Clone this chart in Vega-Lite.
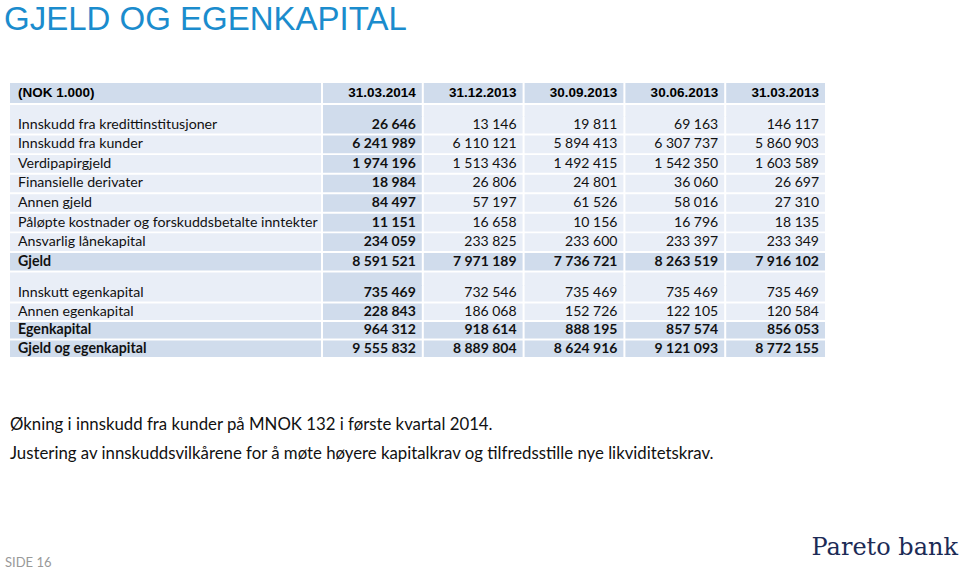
{
 "$schema": "https://vega.github.io/schema/vega-lite/v6.json",
 "width": 960, "height": 571,
 "autosize": {"type": "fit", "contains": "padding"},
 "padding": 0,
 "background": "white",
 "config": {"view": {"stroke": null}, "axis": {"disable": true}, "locale": {"number": {"decimal": ",", "thousands": " ", "grouping": [3], "currency": ["", ""]}}},
 "datasets": {
  "cells": [
   {"block":"A","row":"Innskudd fra kredittinstitusjoner","bold":false,"col":"31.03.2014","value":26646},
   {"block":"A","row":"Innskudd fra kredittinstitusjoner","bold":false,"col":"31.12.2013","value":13146},
   {"block":"A","row":"Innskudd fra kredittinstitusjoner","bold":false,"col":"30.09.2013","value":19811},
   {"block":"A","row":"Innskudd fra kredittinstitusjoner","bold":false,"col":"30.06.2013","value":69163},
   {"block":"A","row":"Innskudd fra kredittinstitusjoner","bold":false,"col":"31.03.2013","value":146117},
   {"block":"A","row":"Innskudd fra kunder","bold":false,"col":"31.03.2014","value":6241989},
   {"block":"A","row":"Innskudd fra kunder","bold":false,"col":"31.12.2013","value":6110121},
   {"block":"A","row":"Innskudd fra kunder","bold":false,"col":"30.09.2013","value":5894413},
   {"block":"A","row":"Innskudd fra kunder","bold":false,"col":"30.06.2013","value":6307737},
   {"block":"A","row":"Innskudd fra kunder","bold":false,"col":"31.03.2013","value":5860903},
   {"block":"A","row":"Verdipapirgjeld","bold":false,"col":"31.03.2014","value":1974196},
   {"block":"A","row":"Verdipapirgjeld","bold":false,"col":"31.12.2013","value":1513436},
   {"block":"A","row":"Verdipapirgjeld","bold":false,"col":"30.09.2013","value":1492415},
   {"block":"A","row":"Verdipapirgjeld","bold":false,"col":"30.06.2013","value":1542350},
   {"block":"A","row":"Verdipapirgjeld","bold":false,"col":"31.03.2013","value":1603589},
   {"block":"A","row":"Finansielle derivater","bold":false,"col":"31.03.2014","value":18984},
   {"block":"A","row":"Finansielle derivater","bold":false,"col":"31.12.2013","value":26806},
   {"block":"A","row":"Finansielle derivater","bold":false,"col":"30.09.2013","value":24801},
   {"block":"A","row":"Finansielle derivater","bold":false,"col":"30.06.2013","value":36060},
   {"block":"A","row":"Finansielle derivater","bold":false,"col":"31.03.2013","value":26697},
   {"block":"A","row":"Annen gjeld","bold":false,"col":"31.03.2014","value":84497},
   {"block":"A","row":"Annen gjeld","bold":false,"col":"31.12.2013","value":57197},
   {"block":"A","row":"Annen gjeld","bold":false,"col":"30.09.2013","value":61526},
   {"block":"A","row":"Annen gjeld","bold":false,"col":"30.06.2013","value":58016},
   {"block":"A","row":"Annen gjeld","bold":false,"col":"31.03.2013","value":27310},
   {"block":"A","row":"Påløpte kostnader og forskuddsbetalte inntekter","bold":false,"col":"31.03.2014","value":11151},
   {"block":"A","row":"Påløpte kostnader og forskuddsbetalte inntekter","bold":false,"col":"31.12.2013","value":16658},
   {"block":"A","row":"Påløpte kostnader og forskuddsbetalte inntekter","bold":false,"col":"30.09.2013","value":10156},
   {"block":"A","row":"Påløpte kostnader og forskuddsbetalte inntekter","bold":false,"col":"30.06.2013","value":16796},
   {"block":"A","row":"Påløpte kostnader og forskuddsbetalte inntekter","bold":false,"col":"31.03.2013","value":18135},
   {"block":"A","row":"Ansvarlig lånekapital","bold":false,"col":"31.03.2014","value":234059},
   {"block":"A","row":"Ansvarlig lånekapital","bold":false,"col":"31.12.2013","value":233825},
   {"block":"A","row":"Ansvarlig lånekapital","bold":false,"col":"30.09.2013","value":233600},
   {"block":"A","row":"Ansvarlig lånekapital","bold":false,"col":"30.06.2013","value":233397},
   {"block":"A","row":"Ansvarlig lånekapital","bold":false,"col":"31.03.2013","value":233349},
   {"block":"A","row":"Gjeld","bold":true,"col":"31.03.2014","value":8591521},
   {"block":"A","row":"Gjeld","bold":true,"col":"31.12.2013","value":7971189},
   {"block":"A","row":"Gjeld","bold":true,"col":"30.09.2013","value":7736721},
   {"block":"A","row":"Gjeld","bold":true,"col":"30.06.2013","value":8263519},
   {"block":"A","row":"Gjeld","bold":true,"col":"31.03.2013","value":7916102},
   {"block":"B","row":"Innskutt egenkapital","bold":false,"col":"31.03.2014","value":735469},
   {"block":"B","row":"Innskutt egenkapital","bold":false,"col":"31.12.2013","value":732546},
   {"block":"B","row":"Innskutt egenkapital","bold":false,"col":"30.09.2013","value":735469},
   {"block":"B","row":"Innskutt egenkapital","bold":false,"col":"30.06.2013","value":735469},
   {"block":"B","row":"Innskutt egenkapital","bold":false,"col":"31.03.2013","value":735469},
   {"block":"B","row":"Annen egenkapital","bold":false,"col":"31.03.2014","value":228843},
   {"block":"B","row":"Annen egenkapital","bold":false,"col":"31.12.2013","value":186068},
   {"block":"B","row":"Annen egenkapital","bold":false,"col":"30.09.2013","value":152726},
   {"block":"B","row":"Annen egenkapital","bold":false,"col":"30.06.2013","value":122105},
   {"block":"B","row":"Annen egenkapital","bold":false,"col":"31.03.2013","value":120584},
   {"block":"B","row":"Egenkapital","bold":true,"col":"31.03.2014","value":964312},
   {"block":"B","row":"Egenkapital","bold":true,"col":"31.12.2013","value":918614},
   {"block":"B","row":"Egenkapital","bold":true,"col":"30.09.2013","value":888195},
   {"block":"B","row":"Egenkapital","bold":true,"col":"30.06.2013","value":857574},
   {"block":"B","row":"Egenkapital","bold":true,"col":"31.03.2013","value":856053},
   {"block":"B","row":"Gjeld og egenkapital","bold":true,"col":"31.03.2014","value":9555832},
   {"block":"B","row":"Gjeld og egenkapital","bold":true,"col":"31.12.2013","value":8889804},
   {"block":"B","row":"Gjeld og egenkapital","bold":true,"col":"30.09.2013","value":8624916},
   {"block":"B","row":"Gjeld og egenkapital","bold":true,"col":"30.06.2013","value":9121093},
   {"block":"B","row":"Gjeld og egenkapital","bold":true,"col":"31.03.2013","value":8772155}
  ],
  "title": [{"text": "GJELD OG EGENKAPITAL"}],
  "notes": [
   {"note": "Økning i innskudd fra kunder på MNOK 132 i første kvartal 2014."},
   {"note": "Justering av innskuddsvilkårene for å møte høyere kapitalkrav og tilfredsstille nye likviditetskrav."}
  ],
  "footer": [{"text": "SIDE 16"}, {"text": "Pareto bank"}]
 },
 "data": {"name": "cells"},
 "layer": [
  {"transform": [{"filter": "datum.row === 'Innskudd fra kredittinstitusjoner' && datum.col === '31.03.2014'"}],
   "mark": {"type": "rect", "fill": "#d0dcec"},
   "encoding": {"x": {"datum": "label", "scale": {"type": "band", "domain": ["label"], "range": [10, 321]}},
                "y": {"datum": "header", "scale": {"type": "band", "domain": ["header"], "range": [83, 103]}}}},
  {"transform": [{"filter": "datum.row === 'Innskudd fra kredittinstitusjoner'"}],
   "mark": {"type": "rect", "fill": "#d0dcec"},
   "encoding": {"x": {"field": "col", "type": "nominal", "sort": null, "scale": {"type": "band", "domain": ["31.03.2014","31.12.2013","30.09.2013","30.06.2013","31.03.2013"], "range": [323, 825], "paddingInner": 0.02, "paddingOuter": 0}},
                "y": {"datum": "header", "scale": {"type": "band", "domain": ["header"], "range": [83, 103]}}}},
  {"transform": [{"filter": "datum.row === 'Innskudd fra kredittinstitusjoner' && datum.col === '31.03.2014'"}],
   "mark": {"type": "text", "text": "(NOK 1.000)", "align": "left", "baseline": "middle", "dx": 8, "font": "Liberation Sans", "fontWeight": "bold", "fontSize": 13.5, "color": "#000"},
   "encoding": {"x": {"datum": "label", "bandPosition": 0, "scale": {"type": "band", "domain": ["label"], "range": [10, 321]}},
                "y": {"datum": "header", "scale": {"type": "band", "domain": ["header"], "range": [83, 103]}}}},
  {"transform": [{"filter": "datum.row === 'Innskudd fra kredittinstitusjoner'"}],
   "mark": {"type": "text", "align": "right", "baseline": "middle", "dx": -6, "font": "Liberation Sans", "fontWeight": "bold", "fontSize": 13.5, "color": "#000"},
   "encoding": {"x": {"field": "col", "type": "nominal", "bandPosition": 1, "scale": {"type": "band", "domain": ["31.03.2014","31.12.2013","30.09.2013","30.06.2013","31.03.2013"], "range": [323, 825], "paddingInner": 0.02, "paddingOuter": 0}},
                "y": {"datum": "header", "scale": {"type": "band", "domain": ["header"], "range": [83, 103]}},
                "text": {"field": "col", "type": "nominal"}}},

  {"transform": [{"filter": "datum.row === 'Innskudd fra kredittinstitusjoner' && datum.col === '31.03.2014'"}],
   "mark": {"type": "rect", "fill": "#e9eef7"},
   "encoding": {"x": {"datum": "label", "scale": {"type": "band", "domain": ["label"], "range": [10, 321]}},
                "y": {"datum": "gap", "scale": {"type": "band", "domain": ["gap"], "range": [105, 117]}}}},
  {"transform": [{"filter": "datum.row === 'Innskudd fra kredittinstitusjoner'"}],
   "mark": {"type": "rect"},
   "encoding": {"x": {"field": "col", "type": "nominal", "scale": {"type": "band", "domain": ["31.03.2014","31.12.2013","30.09.2013","30.06.2013","31.03.2013"], "range": [323, 825], "paddingInner": 0.02, "paddingOuter": 0}},
                "y": {"datum": "gap", "scale": {"type": "band", "domain": ["gap"], "range": [105, 117]}},
                "fill": {"condition": {"test": "datum.col === '31.03.2014'", "value": "#d0dcec"}, "value": "#e9eef7"}}},

  {"transform": [{"filter": "datum.row === 'Innskutt egenkapital' && datum.col === '31.03.2014'"}],
   "mark": {"type": "rect", "fill": "#e9eef7"},
   "encoding": {"x": {"datum": "label", "scale": {"type": "band", "domain": ["label"], "range": [10, 321]}},
                "y": {"datum": "gap", "scale": {"type": "band", "domain": ["gap"], "range": [272.5, 286]}}}},
  {"transform": [{"filter": "datum.row === 'Innskutt egenkapital'"}],
   "mark": {"type": "rect"},
   "encoding": {"x": {"field": "col", "type": "nominal", "scale": {"type": "band", "domain": ["31.03.2014","31.12.2013","30.09.2013","30.06.2013","31.03.2013"], "range": [323, 825], "paddingInner": 0.02, "paddingOuter": 0}},
                "y": {"datum": "gap", "scale": {"type": "band", "domain": ["gap"], "range": [272.5, 286]}},
                "fill": {"condition": {"test": "datum.col === '31.03.2014'", "value": "#d0dcec"}, "value": "#e9eef7"}}},

  {"transform": [{"filter": "datum.block === 'A' && datum.col === '31.03.2014'"}],
   "mark": {"type": "rect"},
   "encoding": {"x": {"datum": "label", "scale": {"type": "band", "domain": ["label"], "range": [10, 321]}},
                "y": {"field": "row", "type": "nominal", "sort": null, "scale": {"type": "band", "domain": ["Innskudd fra kredittinstitusjoner","Innskudd fra kunder","Verdipapirgjeld","Finansielle derivater","Annen gjeld","Påløpte kostnader og forskuddsbetalte inntekter","Ansvarlig lånekapital","Gjeld"], "range": [116, 270.5], "paddingInner": 0.1, "paddingOuter": 0}},
                "fill": {"condition": {"test": "datum.bold", "value": "#d0dcec"}, "value": "#e9eef7"}}},
  {"transform": [{"filter": "datum.block === 'A'"}],
   "mark": {"type": "rect"},
   "encoding": {"x": {"field": "col", "type": "nominal", "scale": {"type": "band", "domain": ["31.03.2014","31.12.2013","30.09.2013","30.06.2013","31.03.2013"], "range": [323, 825], "paddingInner": 0.02, "paddingOuter": 0}},
                "y": {"field": "row", "type": "nominal", "scale": {"type": "band", "domain": ["Innskudd fra kredittinstitusjoner","Innskudd fra kunder","Verdipapirgjeld","Finansielle derivater","Annen gjeld","Påløpte kostnader og forskuddsbetalte inntekter","Ansvarlig lånekapital","Gjeld"], "range": [116, 270.5], "paddingInner": 0.1, "paddingOuter": 0}},
                "fill": {"condition": {"test": "datum.bold || datum.col === '31.03.2014'", "value": "#d0dcec"}, "value": "#e9eef7"}}},
  {"transform": [{"filter": "datum.block === 'A' && datum.col === '31.03.2014'"}],
   "mark": {"type": "text", "align": "left", "baseline": "middle", "dx": 8, "font": "Lato", "fontSize": 14.2, "color": "#111", "fontWeight": {"expr": "datum.bold ? 'bold' : 'normal'"}},
   "encoding": {"x": {"datum": "label", "bandPosition": 0, "scale": {"type": "band", "domain": ["label"], "range": [10, 321]}},
                "y": {"field": "row", "type": "nominal", "scale": {"type": "band", "domain": ["Innskudd fra kredittinstitusjoner","Innskudd fra kunder","Verdipapirgjeld","Finansielle derivater","Annen gjeld","Påløpte kostnader og forskuddsbetalte inntekter","Ansvarlig lånekapital","Gjeld"], "range": [116, 270.5], "paddingInner": 0.1, "paddingOuter": 0}},
                "text": {"field": "row", "type": "nominal"}}},
  {"transform": [{"filter": "datum.block === 'A'"}],
   "mark": {"type": "text", "align": "right", "baseline": "middle", "dx": -6, "font": "Lato", "fontSize": 14, "color": "#111", "fontWeight": {"expr": "(datum.bold || datum.col === '31.03.2014') ? 'bold' : 'normal'"}},
   "encoding": {"x": {"field": "col", "type": "nominal", "bandPosition": 1, "scale": {"type": "band", "domain": ["31.03.2014","31.12.2013","30.09.2013","30.06.2013","31.03.2013"], "range": [323, 825], "paddingInner": 0.02, "paddingOuter": 0}},
                "y": {"field": "row", "type": "nominal", "scale": {"type": "band", "domain": ["Innskudd fra kredittinstitusjoner","Innskudd fra kunder","Verdipapirgjeld","Finansielle derivater","Annen gjeld","Påløpte kostnader og forskuddsbetalte inntekter","Ansvarlig lånekapital","Gjeld"], "range": [116, 270.5], "paddingInner": 0.1, "paddingOuter": 0}},
                "text": {"field": "value", "type": "quantitative", "format": ",d"}}},

  {"transform": [{"filter": "datum.block === 'B' && datum.col === '31.03.2014'"}],
   "mark": {"type": "rect"},
   "encoding": {"x": {"datum": "label", "scale": {"type": "band", "domain": ["label"], "range": [10, 321]}},
                "y": {"field": "row", "type": "nominal", "scale": {"type": "band", "domain": ["Innskutt egenkapital","Annen egenkapital","Egenkapital","Gjeld og egenkapital"], "range": [285, 357], "paddingInner": 0.1, "paddingOuter": 0}},
                "fill": {"condition": {"test": "datum.bold", "value": "#d0dcec"}, "value": "#e9eef7"}}},
  {"transform": [{"filter": "datum.block === 'B'"}],
   "mark": {"type": "rect"},
   "encoding": {"x": {"field": "col", "type": "nominal", "scale": {"type": "band", "domain": ["31.03.2014","31.12.2013","30.09.2013","30.06.2013","31.03.2013"], "range": [323, 825], "paddingInner": 0.02, "paddingOuter": 0}},
                "y": {"field": "row", "type": "nominal", "scale": {"type": "band", "domain": ["Innskutt egenkapital","Annen egenkapital","Egenkapital","Gjeld og egenkapital"], "range": [285, 357], "paddingInner": 0.1, "paddingOuter": 0}},
                "fill": {"condition": {"test": "datum.bold || datum.col === '31.03.2014'", "value": "#d0dcec"}, "value": "#e9eef7"}}},
  {"transform": [{"filter": "datum.block === 'B' && datum.col === '31.03.2014'"}],
   "mark": {"type": "text", "align": "left", "baseline": "middle", "dx": 8, "font": "Lato", "fontSize": 14.2, "color": "#111", "fontWeight": {"expr": "datum.bold ? 'bold' : 'normal'"}},
   "encoding": {"x": {"datum": "label", "bandPosition": 0, "scale": {"type": "band", "domain": ["label"], "range": [10, 321]}},
                "y": {"field": "row", "type": "nominal", "scale": {"type": "band", "domain": ["Innskutt egenkapital","Annen egenkapital","Egenkapital","Gjeld og egenkapital"], "range": [285, 357], "paddingInner": 0.1, "paddingOuter": 0}},
                "text": {"field": "row", "type": "nominal"}}},
  {"transform": [{"filter": "datum.block === 'B'"}],
   "mark": {"type": "text", "align": "right", "baseline": "middle", "dx": -6, "font": "Lato", "fontSize": 14, "color": "#111", "fontWeight": {"expr": "(datum.bold || datum.col === '31.03.2014') ? 'bold' : 'normal'"}},
   "encoding": {"x": {"field": "col", "type": "nominal", "bandPosition": 1, "scale": {"type": "band", "domain": ["31.03.2014","31.12.2013","30.09.2013","30.06.2013","31.03.2013"], "range": [323, 825], "paddingInner": 0.02, "paddingOuter": 0}},
                "y": {"field": "row", "type": "nominal", "scale": {"type": "band", "domain": ["Innskutt egenkapital","Annen egenkapital","Egenkapital","Gjeld og egenkapital"], "range": [285, 357], "paddingInner": 0.1, "paddingOuter": 0}},
                "text": {"field": "value", "type": "quantitative", "format": ",d"}}},

  {"data": {"name": "title"},
   "mark": {"type": "text", "align": "left", "baseline": "middle", "font": "Liberation Sans", "fontSize": 33, "color": "#1b8ccd"},
   "encoding": {"x": {"field": "text", "type": "nominal", "bandPosition": 0, "scale": {"type": "band", "domain": ["GJELD OG EGENKAPITAL"], "range": [4, 410]}},
                "y": {"field": "text", "type": "nominal", "scale": {"type": "band", "domain": ["GJELD OG EGENKAPITAL"], "range": [0, 40]}},
                "text": {"field": "text", "type": "nominal"}}},
  {"data": {"name": "notes"},
   "mark": {"type": "text", "align": "left", "baseline": "middle", "font": "Lato", "fontSize": 16.8, "color": "#111"},
   "encoding": {"x": {"datum": "n", "bandPosition": 0, "scale": {"type": "band", "domain": ["n"], "range": [10, 800]}},
                "y": {"field": "note", "type": "nominal", "scale": {"type": "band", "domain": ["Økning i innskudd fra kunder på MNOK 132 i første kvartal 2014.", "Justering av innskuddsvilkårene for å møte høyere kapitalkrav og tilfredsstille nye likviditetskrav."], "range": [410, 468]}},
                "text": {"field": "note", "type": "nominal"}}},
  {"data": {"name": "footer"},
   "transform": [{"filter": "datum.text === 'SIDE 16'"}],
   "mark": {"type": "text", "align": "left", "baseline": "middle", "font": "Lato", "fontSize": 13, "color": "#999999"},
   "encoding": {"x": {"field": "text", "type": "nominal", "bandPosition": 0, "scale": {"type": "band", "domain": ["SIDE 16"], "range": [5, 400]}},
                "y": {"field": "text", "type": "nominal", "scale": {"type": "band", "domain": ["SIDE 16"], "range": [555, 571]}},
                "text": {"field": "text", "type": "nominal"}}},
  {"data": {"name": "footer"},
   "transform": [{"filter": "datum.text === 'Pareto bank'"}],
   "mark": {"type": "text", "align": "right", "baseline": "middle", "font": "DejaVu Serif", "fontSize": 24, "color": "#1c2b56"},
   "encoding": {"x": {"field": "text", "type": "nominal", "bandPosition": 1, "scale": {"type": "band", "domain": ["Pareto bank"], "range": [600, 958]}},
                "y": {"field": "text", "type": "nominal", "scale": {"type": "band", "domain": ["Pareto bank"], "range": [535, 561]}},
                "text": {"field": "text", "type": "nominal"}}}
 ],
 "resolve": {"scale": {"x": "independent", "y": "independent"}}
}
